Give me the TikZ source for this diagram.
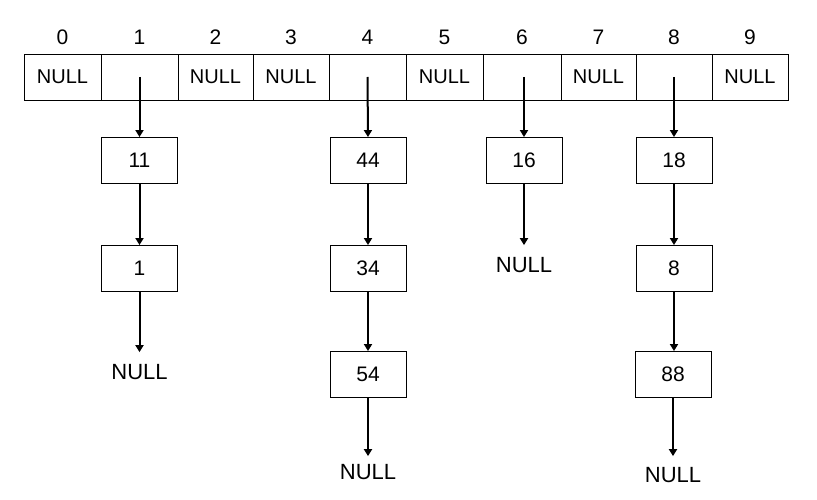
\documentclass[tikz,border=0pt]{standalone}
\usepackage{fontspec}
\setmainfont{Liberation Sans}
\usetikzlibrary{arrows.meta}
\begin{document}
\begin{tikzpicture}[x=1pt,y=-1pt,
  cell/.style={draw,line width=0.9pt,minimum height=46pt,inner sep=0pt,font=\fontsize{20}{24}\selectfont},
  item/.style={draw,line width=0.9pt,minimum width=76pt,minimum height=46pt,inner sep=0pt,font=\fontsize{21}{24}\selectfont},
  lbl/.style={font=\fontsize{21}{24}\selectfont,inner sep=0pt},
  nul/.style={font=\fontsize{22}{24}\selectfont,inner xsep=0pt,inner ysep=12pt},
  link/.style={line width=2pt,-{Triangle[length=7pt,width=8pt]}}]
\useasboundingbox (0,0) rectangle (817,500);
% array cells
\node[cell,minimum width=77pt] (c0) at (62.5,77) {NULL};
\node[cell,minimum width=77pt] (c1) at (139.5,77) {};
\node[cell,minimum width=75pt] (c2) at (215.5,77) {NULL};
\node[cell,minimum width=76pt] (c3) at (291,77) {NULL};
\node[cell,minimum width=77pt] (c4) at (367.5,77) {};
\node[cell,minimum width=77pt] (c5) at (444.5,77) {NULL};
\node[cell,minimum width=78pt] (c6) at (522,77) {};
\node[cell,minimum width=75pt] (c7) at (598.5,77) {NULL};
\node[cell,minimum width=76pt] (c8) at (674,77) {};
\node[cell,minimum width=76pt] (c9) at (750,77) {NULL};
% indices
\foreach \i in {0,...,9} {\node[lbl] (l\i) at (c\i |- 0,37) {\i};}
% column 1
\node[item] (n11) at (139.5,160.5) {11};
\node[item] (n1) at (139.5,268.5) {1};
\node[nul] (z1) at (139.5,372) {NULL};
\draw[link] (c1.center) -- (n11.north);
\draw[link] (n11.south) -- (n1.north);
\draw[link] (n1.south) -- (z1.north);
% column 4
\node[item] (n44) at (368,160.5) {44};
\node[item] (n34) at (368,268.5) {34};
\node[item] (n54) at (368,374.5) {54};
\node[nul,inner ysep=8pt] (z4) at (368,472) {NULL};
\draw[link] (c4.center) -- (n44.north);
\draw[link] (n44.south) -- (n34.north);
\draw[link] (n34.south) -- (n54.north);
\draw[link] (n54.south) -- (z4.north);
% column 6
\node[item] (n16) at (524,160.5) {16};
\node[nul] (z6) at (524,265) {NULL};
\draw[link] (c6.center -| n16) -- (n16.north);
\draw[link] (n16.south) -- (z6.north);
% column 8
\node[item] (n18) at (674,160.5) {18};
\node[item] (n8) at (674,268.5) {8};
\node[item] (n88) at (673,374.5) {88};
\node[nul,inner ysep=11pt] (z8) at (673,475) {NULL};
\draw[link] (c8.center) -- (n18.north);
\draw[link] (n18.south) -- (n8.north);
\draw[link] (n8.south) -- (n8.south |- n88.north);
\draw[link] (n88.south) -- (z8.north);
\end{tikzpicture}
\end{document}
